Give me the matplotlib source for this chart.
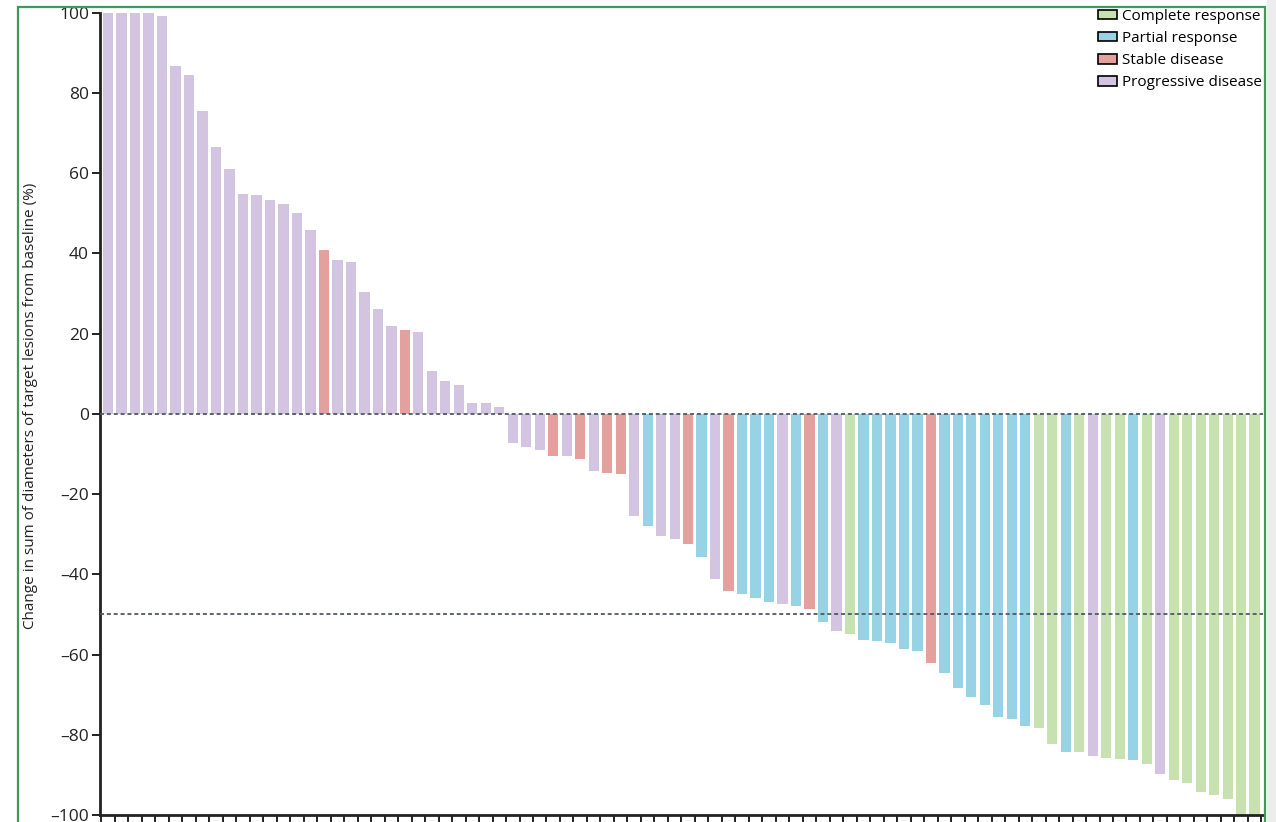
import matplotlib
matplotlib.use("Agg")
import matplotlib.pyplot as plt
from matplotlib.patches import Patch, Rectangle

# best overall response per patient, sorted by change in target lesions
change_pct = [
    100, 100, 100, 100, 99.3, 86.8, 84.4, 75.4, 66.6, 61.1,
    54.8, 54.5, 53.4, 52.2, 50.2, 45.8, 40.8, 38.4, 37.8, 30.3,
    26.2, 21.9, 21.0, 20.3, 10.8, 8.1, 7.2, 2.7, 2.7, 1.7,
    -7.2, -8.3, -9.0, -10.5, -10.4, -11.3, -14.3, -14.7, -15.0, -25.5,
    -27.9, -30.5, -31.2, -32.4, -35.7, -41.2, -44.1, -44.9, -46.0, -46.9,
    -47.3, -48.0, -48.6, -52.0, -54.2, -54.9, -56.4, -56.6, -57.1, -58.6,
    -59.0, -62.1, -64.6, -68.4, -70.6, -72.6, -75.5, -76.0, -77.7, -78.2,
    -82.2, -84.2, -84.3, -85.2, -85.7, -86.1, -86.2, -87.2, -89.9, -91.2,
    -92.0, -94.2, -95.1, -95.9, -100, -100,
]
response = (
    ["PD"] * 16 + ["SD"] + ["PD"] * 5 + ["SD"] + ["PD"] * 10
    + ["SD", "PD", "SD", "PD", "SD", "SD", "PD", "PR", "PD", "PD",
       "SD", "PR", "PD", "SD", "PR", "PR", "PR", "PD", "PR", "SD",
       "PR", "PD", "CR", "PR", "PR", "PR", "PR", "PR", "SD", "PR",
       "PR", "PR", "PR", "PR", "PR", "PR", "CR", "CR", "PR", "CR",
       "PD", "CR", "CR", "PR", "CR", "PD", "CR", "CR", "CR", "CR",
       "CR", "CR", "CR"]
)

legend_order = ["CR", "PR", "SD", "PD"]
legend_labels = ["Complete response", "Partial response", "Stable disease",
                 "Progressive disease"]
colours = {"CR": "#c7e1b1", "PR": "#98d3e5", "SD": "#e3a09c", "PD": "#d3c4e2"}

y_ticks = [100, 80, 60, 40, 20, 0, -20, -40, -60, -80, -100]
y_ticklabels = ["100", "80", "60", "40", "20", "0", "\u201320", "\u201340",
                "\u201360", "\u201380", "\u2013100"]
ref_lines = [0, -50]

plt.rcParams["font.family"] = ["Open Sans", "DejaVu Sans"]

fig = plt.figure(figsize=(12.76, 8.22), dpi=100)
ax = fig.add_axes([0.0784, 0.0085, 0.9114, 0.976])

x = list(range(len(change_pct)))
ax.bar(x, change_pct, width=0.76, color=[colours[r] for r in response],
       zorder=2)

for y in ref_lines:
    ax.axhline(y, color="#4d5966", lw=1.3, dashes=(2.2, 1.6), zorder=3)

ax.set_xlim(-0.6, 85.62)
ax.set_ylim(-100, 100)
ax.set_xticks([i - 0.5 for i in range(len(change_pct) + 1)])
ax.set_xticklabels([])
ax.set_yticks(y_ticks)
ax.set_yticklabels(y_ticklabels, fontsize=12.5, color="#222222")
ax.tick_params(axis="both", direction="out", length=6, width=1.4,
               color="#222222", pad=2)
ax.tick_params(axis="x", length=7)

for side in ("top", "right"):
    ax.spines[side].set_visible(False)
for side in ("left", "bottom"):
    ax.spines[side].set_linewidth(2)
    ax.spines[side].set_color("#222222")

ax.set_ylabel("Change in sum of diameters of target lesions from baseline (%)",
              fontsize=11, color="#222222")
ax.yaxis.set_label_coords(-0.053, 0.51)

handles = [Patch(facecolor=colours[k], edgecolor="black", linewidth=1.2)
           for k in legend_order]
fig.legend(handles, legend_labels, loc="upper right",
           bbox_to_anchor=(1262 / 1276, 1 - 9 / 822), frameon=False,
           fontsize=11, handlelength=1.3, handleheight=0.6,
           handletextpad=0.3, labelspacing=0.46, borderaxespad=0,
           borderpad=0)

# green frame around the panel
fig.patches.append(Rectangle((18 / 1276, -0.02), (1265 - 18) / 1276,
                             1.02 - 7 / 822, transform=fig.transFigure,
                             fill=False, edgecolor="#3f9a58", lw=1.6))
fig.patches.append(Rectangle((1267 / 1276, 0), 9 / 1276, 1,
                             transform=fig.transFigure, facecolor="#ededed",
                             edgecolor="none"))

fig.savefig("out.png", dpi=100)
